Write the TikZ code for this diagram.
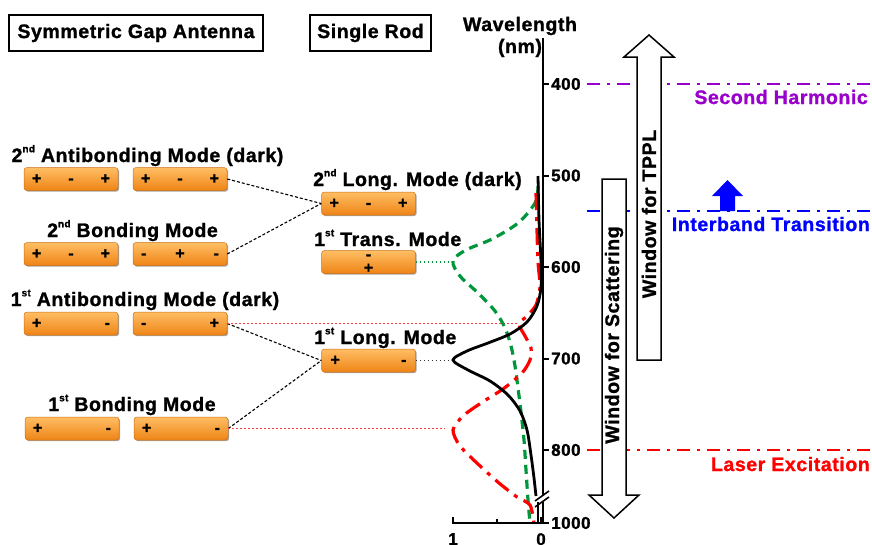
\documentclass[tikz,border=0pt]{standalone}
\usepackage{fontspec}
\setmainfont{Liberation Sans}[LetterSpace=3, BoldFeatures={FakeBold=1.2}]
\usetikzlibrary{shadows}

\definecolor{boxtop}{RGB}{255,190,100}
\definecolor{boxbot}{RGB}{238,132,22}
\definecolor{boxedge}{RGB}{205,112,22}
\definecolor{harmcol}{RGB}{153,0,204}
\definecolor{bandcol}{RGB}{0,0,255}
\definecolor{lasercol}{RGB}{255,0,0}
\definecolor{transcol}{RGB}{0,150,60}
\definecolor{dotred}{RGB}{255,60,60}

\newcommand\lbl{\fontsize{19.5}{21}\selectfont\bfseries}
\newcommand\tick{\fontsize{17}{17}\selectfont\bfseries}
\newcommand\chg{\fontsize{16}{16}\selectfont\bfseries}
\newcommand\sups[1]{\raisebox{0.5em}{\fontsize{10}{10}\selectfont\bfseries #1}}
\newcommand\chPMP{\makebox[78pt]{+\hfill-\hfill+}}
\newcommand\chMPM{\makebox[78pt]{-\hfill+\hfill-}}
\newcommand\chPM{\makebox[78pt]{+\hfill-}}
\newcommand\chMP{\makebox[78pt]{-\hfill+}}

\tikzset{
  rod/.style={rounded corners=3pt, draw=boxedge, line width=0.5pt,
    top color=boxtop, bottom color=boxbot, minimum width=94pt,
    minimum height=23pt, inner sep=0pt, font=\chg, align=center,
    drop shadow={shadow xshift=1.2pt, shadow yshift=-1.2pt, opacity=0.35, fill=black}},
  charge/.style={font=\chg, inner sep=0pt, anchor=base, text depth=0pt},
  modelabel/.style={font=\lbl, inner sep=0pt},
  titlebox/.style={draw, line width=1.8pt, font=\lbl, minimum height=36pt, inner sep=0pt},
  ticklabel/.style={font=\tick, inner sep=0pt},
  link/.style={dash pattern=on 3pt off 2pt, line width=1.1pt},
  dotlink/.style={dash pattern=on 1.5pt off 2.5pt, line width=1.5pt},
  levelline/.style={dash pattern=on 13pt off 7pt on 3pt off 7pt, line width=2pt},
  levellabel/.style={font=\lbl, inner sep=0pt, anchor=base east},
  winarrow/.style={draw=black, fill=white, line width=1.5pt, line join=miter},
  axisline/.style={line width=2.4pt},
}

\begin{document}
\begin{tikzpicture}[x=1pt, y=-1pt]
\useasboundingbox (0,0) rectangle (872,544);

% ---------- headings ----------
\node[titlebox, minimum width=254pt] (antenna) at (136,33) {Symmetric Gap Antenna};
\node[titlebox, minimum width=121pt] (rodtitle) at (370.5,33) {Single Rod};
\node[modelabel, anchor=base] (wl1) at (520,31) {Wavelength};
\node[modelabel, anchor=base] (wl2) at (520,53) {(nm)};

% ---------- gap antenna modes ----------
\node[modelabel, anchor=base] (lab2ab) at (147.5,162) {2\sups{nd} Antibonding Mode (dark)};
\node[rod] (ab2a) at (71,179) {\chPMP};
\node[rod] (ab2b) at (180,179) {\chPMP};

\node[modelabel, anchor=base] (lab2b) at (132.5,237) {2\sups{nd} Bonding Mode};
\node[rod] (b2a) at (71,254) {\chPMP};
\node[rod] (b2b) at (180,254) {\chMPM};

\node[modelabel, anchor=base] (lab1ab) at (145,306) {1\sups{st} Antibonding Mode (dark)};
\node[rod] (ab1a) at (71,323.5) {\chPM};
\node[rod] (ab1b) at (180,323.5) {\chMP};

\node[modelabel, anchor=base] (lab1b) at (132,411) {1\sups{st} Bonding Mode};
\node[rod] (b1a) at (72,428.5) {\chPM};
\node[rod] (b1b) at (181,428.5) {\chPM};

% ---------- single rod modes ----------
\node[modelabel, anchor=base west] (lablong2) at (313,186) {2\sups{nd} Long. Mode (dark)};
\node[rod] (long2) at (368.5,203.5) {\chPMP};

\node[modelabel, anchor=base west] (labtrans) at (314,246) {1\sups{st} Trans. Mode};
\node[rod] (trans) at (368.5,262) {};
\node[charge, text height=5pt] (transm) at (368.5,259.5) {-};
\node[charge, text height=10pt] (transp) at (368.5,273) {+};

\node[modelabel, anchor=base west] (lablong1) at (314,344) {1\sups{st} Long. Mode};
\node[rod] (long1) at (368.5,360.5) {\makebox[76pt]{+\hfill-}};

% ---------- peak positions on the spectra ----------
\coordinate (pkred1) at (518,323.5);
\coordinate (pkred2) at (445,428.5);
\coordinate (pkgreen) at (451,262);
\coordinate (pkblack) at (450,360.5);

% ---------- hybridisation links ----------
\draw[link] (ab2b.east) -- (long2.west);
\draw[link] (b2b.east) -- (long2.west);
\draw[link] (ab1b.east) -- (long1.west);
\draw[link] (b1b.east) -- (long1.west);
\draw[dotlink, dotred] (ab1b.east) -- (pkred1);
\draw[dotlink, dotred] (b1b.east) -- (pkred2);
\draw[dotlink, transcol] (trans.east) -- (pkgreen);
\draw[dotlink, black!80] (long1.east) -- (pkblack);

% ---------- spectra ----------
\draw[transcol, line width=3.2pt, dash pattern=on 9pt off 6pt]
  plot[smooth, tension=0.55] coordinates {(538,186) (535,203) (518,223) (492,239) (466,250) (453,261)
  (460,276) (478,293) (495,311) (505,328) (511,346) (515,366) (518,388) (521,412) (524,440)
  (526,470) (528,500) (530,523)};
\draw[lasercol, line width=3.2pt, dash pattern=on 17pt off 7pt on 4pt off 7pt]
  plot[smooth, tension=0.45] coordinates {(536,193) (537,230) (538,262) (540,287) (536,305)
  (527,316) (519,324) (525,336) (531,348) (530,360) (522,373) (503,389) (481,403) (463,416)
  (453,430) (460,446) (479,465) (499,483) (517,497) (530,505) (534,523)};
\draw[black, line width=2.8pt]
  plot[smooth, tension=0.5] coordinates {(538,176) (539,220) (541,262) (541,287) (537,306)
  (527,322) (510,334) (488,343) (467,351) (453,360) (468,370) (490,381) (508,395) (520,411)
  (527,430) (531,455) (534,478) (536,496)};
\draw[black, line width=2.2pt] (538,502) -- (538,523);

% ---------- wavelength axis ----------
\draw[axisline] (543,38) -- (543,496);
\draw[axisline] (543,502) -- (543,523);
\draw[line width=1.6pt] (535,501) -- (549,491);
\draw[line width=1.6pt] (535,507) -- (549,497);
\foreach \w/\yy in {400/84,500/175.5,600/267,700/358.5,800/450,1000/523}{
  \draw[line width=2pt] (543,\yy) -- (549,\yy);
  \node[ticklabel, anchor=west] (tick\w) at (551,\yy) {\w};
}

% ---------- intensity axis ----------
\draw[axisline] (452,523) -- (544,523);
\draw[line width=2pt] (453,523) -- (453,517);
\draw[line width=2pt] (497,523) -- (497,519);
\draw[line width=2pt] (541,523) -- (541,517);
\node[ticklabel, anchor=north] (xone) at (453,533) {1};
\node[ticklabel, anchor=north] (xzero) at (541,533) {0};

% ---------- reference levels ----------
\coordinate (harmL) at (587,84);   \coordinate (harmR) at (872,84);
\coordinate (bandL) at (587,211);  \coordinate (bandR) at (872,211);
\coordinate (laserL) at (587,450); \coordinate (laserR) at (872,450);
\draw[levelline, harmcol] (harmL) -- (harmR);
\draw[levelline, bandcol] (bandL) -- (bandR);
\draw[levelline, lasercol] (laserL) -- (laserR);
\node[levellabel, text=harmcol] (harmlab) at (868,104) {Second Harmonic};
\node[levellabel, text=bandcol] (bandlab) at (870,231) {Interband Transition};
\node[levellabel, text=lasercol] (laserlab) at (870,471) {Laser Excitation};

% interband arrow
\fill[bandcol] (720,211) -- (735,211) -- (735,196) -- (743,196) -- (727.5,180)
  -- (712,196) -- (720,196) -- cycle;

% ---------- detection windows ----------
\draw[winarrow] (637,360) -- (661,360) -- (661,57) -- (674,57) -- (649,35) -- (624,57)
  -- (637,57) -- cycle;
\node[modelabel, rotate=90] (tppl) at (649,214) {Window for TPPL};
\draw[winarrow] (602,179) -- (626,179) -- (626,495) -- (639,495) -- (614,518) -- (589,495)
  -- (602,495) -- cycle;
\node[modelabel, rotate=90] (scat) at (614,335) {Window for Scattering};
\end{tikzpicture}
\end{document}
